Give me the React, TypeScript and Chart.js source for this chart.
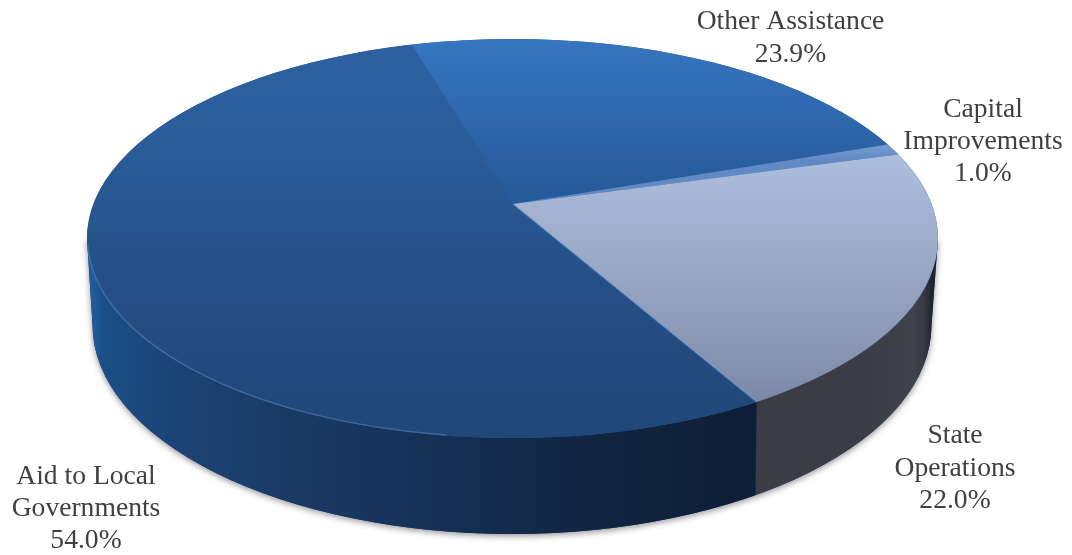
import React, { useEffect, useRef } from "react";
import { Chart, ArcElement, PieController } from "chart.js";

Chart.register(ArcElement, PieController);

const WIDTH = 1072;
const HEIGHT = 555;

// Budget shares, clockwise from the top of the pie.
const categories = ["Other Assistance", "Capital Improvements", "State Operations", "Aid to Local Governments"];
const shares = [23.9, 1.0, 22.0, 54.0];

// Label layout: wrapped lines, centre x and the first baseline.
const labelLines = [["Other Assistance"], ["Capital", "Improvements"], ["State", "Operations"], ["Aid to Local", "Governments"]];
const labelCentreX = [790.5, 983, 955, 86];
const labelBaseline = [28.5, 117, 443, 484];
const labelLeading = [33, 32, 32.5, 32];

// The tilted disc: apex of the slices, top rim ellipse, bottom rim ellipse.
const apex = { x: 513, y: 204 };
const tilt = 0.433;
const topRim = { x: 512.5, y: 238.5, rx: 425.5, ry: 199.5 };
const bottomRim = { x: 512, y: 325, rx: 419.5, ry: 209 };

type Stop = [number, string];
const faceStops: Stop[][] = [
  [[40, "#3675c0"], [110, "#2f69af"], [190, "#275a9a"]],
  [[140, "#7ea2d6"], [160, "#6189c4"]],
  [[150, "#adbfe0"], [250, "#9dabca"], [330, "#8d9bb9"], [400, "#7c89a6"]],
  [[40, "#2d61a2"], [150, "#2a5c98"], [250, "#26528a"], [350, "#234b80"], [440, "#1f4777"]],
];

// Gradient running along the page's y axis, expressed in the chart's untilted coordinates.
function faceGradient(ctx: CanvasRenderingContext2D, stops: Stop[]) {
  const toChartY = (y: number) => (y - apex.y) / tilt + HEIGHT / 2;
  const y0 = stops[0][0];
  const y1 = stops[stops.length - 1][0];
  const g = ctx.createLinearGradient(0, toChartY(y0), 0, toChartY(y1));
  stops.forEach(([y, c]) => g.addColorStop((y - y0) / (y1 - y0), c));
  return g;
}

function ellipsePath(ctx: CanvasRenderingContext2D, e: typeof topRim) {
  ctx.beginPath();
  ctx.ellipse(e.x, e.y, e.rx, e.ry, 0, 0, Math.PI * 2);
}

// Where a slice edge leaving the apex at the given angle meets the top rim.
function rimPoint(angle: number) {
  const dx = Math.cos(angle) / topRim.rx;
  const dy = (tilt * Math.sin(angle)) / topRim.ry;
  const ox = (apex.x - topRim.x) / topRim.rx;
  const oy = (apex.y - topRim.y) / topRim.ry;
  const a = dx * dx + dy * dy;
  const b = 2 * (ox * dx + oy * dy);
  const c = ox * ox + oy * oy - 1;
  const t = (-b + Math.sqrt(b * b - 4 * a * c)) / (2 * a);
  return { x: apex.x + t * Math.cos(angle), y: apex.y + t * tilt * Math.sin(angle) };
}

function wallPath(ctx: CanvasRenderingContext2D) {
  ctx.beginPath();
  ctx.moveTo(topRim.x - topRim.rx, topRim.y);
  ctx.lineTo(bottomRim.x - bottomRim.rx, bottomRim.y);
  ctx.ellipse(bottomRim.x, bottomRim.y, bottomRim.rx, bottomRim.ry, 0, Math.PI, 0, true);
  ctx.lineTo(topRim.x + topRim.rx, topRim.y);
  ctx.closePath();
}

const discPlugin = {
  id: "tiltedDisc",
  beforeDatasetsDraw(chart: any) {
    const ctx: CanvasRenderingContext2D = chart.ctx;
    const arcs = chart.getDatasetMeta(0).data;
    const edge = rimPoint(arcs[2].endAngle);

    // Side wall with its soft drop shadow.
    ctx.save();
    ctx.shadowColor = "rgba(40,40,50,0.5)";
    ctx.shadowBlur = 6;
    ctx.shadowOffsetY = 2;
    ctx.fillStyle = "#1a3560";
    wallPath(ctx);
    ctx.fill();
    ctx.restore();

    const blue = ctx.createLinearGradient(bottomRim.x - bottomRim.rx, 0, edge.x, 0);
    [
      [0, "#205c9b"], [0.015, "#1c5089"], [0.06, "#1b4a7f"], [0.15, "#1b4272"], [0.3, "#1a3a66"],
      [0.52, "#153054"], [0.77, "#112440"], [1, "#0d1f36"],
    ].forEach(([p, c]) => blue.addColorStop(p as number, c as string));
    const grey = ctx.createLinearGradient(edge.x, 0, bottomRim.x + bottomRim.rx, 0);
    [
      [0, "#3a3d46"], [0.6, "#3a3d46"], [0.9, "#40434c"], [0.97, "#33363f"], [1, "#20242e"],
    ].forEach(([p, c]) => grey.addColorStop(p as number, c as string));

    ctx.save();
    wallPath(ctx);
    ctx.clip();
    ctx.fillStyle = grey;
    ctx.fillRect(edge.x - 6, 0, WIDTH, HEIGHT);
    ctx.fillStyle = blue;
    ctx.beginPath();
    ctx.moveTo(0, 0);
    ctx.lineTo(edge.x, 0);
    ctx.lineTo(edge.x, edge.y);
    ctx.lineTo(edge.x - 2, HEIGHT);
    ctx.lineTo(0, HEIGHT);
    ctx.closePath();
    ctx.fill();
    ctx.restore();

    // Base under the top face so slice seams stay hidden.
    ctx.fillStyle = "#2a5c98";
    ellipsePath(ctx, topRim);
    ctx.fill();

    // The slices are drawn in a tilted frame and trimmed by the rim ellipse.
    ctx.save();
    ellipsePath(ctx, topRim);
    ctx.clip();
    ctx.translate(apex.x, apex.y);
    ctx.scale(1, tilt);
    ctx.translate(-WIDTH / 2, -HEIGHT / 2);
  },
  afterDatasetsDraw(chart: any) {
    const ctx: CanvasRenderingContext2D = chart.ctx;
    ctx.restore();
    const arcs = chart.getDatasetMeta(0).data;
    const edge = rimPoint(arcs[2].endAngle);

    // Light catching the front rim and the near slice edge.
    ctx.save();
    ctx.strokeStyle = "rgba(112,156,214,0.38)";
    ctx.lineWidth = 1.5;
    ctx.beginPath();
    ctx.ellipse(topRim.x, topRim.y, topRim.rx - 0.5, topRim.ry - 0.5, 0, Math.PI * 0.55, Math.PI * 0.99);
    ctx.stroke();
    ctx.strokeStyle = "rgba(118,160,216,0.55)";
    ctx.beginPath();
    ctx.moveTo(apex.x, apex.y);
    ctx.lineTo(edge.x, edge.y);
    ctx.stroke();
    ctx.restore();

    // Slice labels.
    ctx.save();
    ctx.fillStyle = "#404040";
    ctx.font = '27.6px "Liberation Serif"';
    ctx.textAlign = "center";
    ctx.textBaseline = "alphabetic";
    categories.forEach((_, i) => {
      const lines = [...labelLines[i], `${shares[i].toFixed(1)}%`];
      lines.forEach((line, k) => ctx.fillText(line, labelCentreX[i], labelBaseline[i] + k * labelLeading[i]));
    });
    ctx.restore();
  },
};

export default function App() {
  const ref = useRef<HTMLCanvasElement>(null);

  useEffect(() => {
    const canvas = ref.current!;
    const ctx = canvas.getContext("2d")!;
    const chart = new Chart(canvas, {
      type: "pie",
      data: {
        labels: categories,
        datasets: [
          {
            data: shares,
            backgroundColor: faceStops.map((s) => faceGradient(ctx, s)),
            borderWidth: 0,
            clip: false,
          } as any,
        ],
      },
      options: {
        animation: false,
        responsive: false,
        events: [],
        rotation: -15.4,
        radius: 800,
        layout: { padding: 0 },
        plugins: { legend: { display: false }, tooltip: { enabled: false } },
      } as any,
      plugins: [discPlugin],
    });
    return () => chart.destroy();
  }, []);

  return (
    <div style={{ position: "absolute", left: 0, top: 0, width: WIDTH, height: HEIGHT, background: "#fff" }}>
      <canvas ref={ref} width={WIDTH} height={HEIGHT} style={{ display: "block" }} />
    </div>
  );
}
